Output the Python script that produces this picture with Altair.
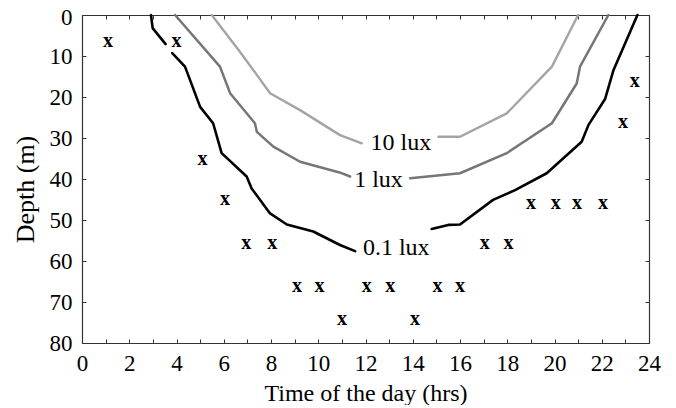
import altair as alt
import pandas as pd

# 0.1 lux isolume (three segments, gaps for marker and label)
l01a_time = [2.92, 2.99, 3.54]
l01a_depth = [0, 3.2, 7.1]
l01b_time = [3.82, 4.36, 5.0, 5.55, 5.91, 6.97, 7.18, 7.96, 8.67, 9.79, 10.92, 11.56]
l01b_depth = [9.3, 12.6, 22.4, 26.4, 33.7, 39.4, 42.3, 48.4, 51.1, 52.8, 56.1, 57.6]
l01c_time = [14.8, 15.5, 16.0, 17.4, 18.33, 19.67, 21.15, 21.44, 22.14, 22.5, 23.51]
l01c_depth = [52.2, 51.2, 51.1, 45.1, 42.7, 38.6, 30.9, 26.8, 20.5, 13.4, 0]

# 1 lux isolume
l1a_time = [3.94, 5.84, 6.27, 7.32, 7.40, 8.1, 9.23, 10.9, 11.35]
l1a_depth = [0, 12.6, 19.1, 26.4, 28.5, 32.1, 35.8, 38.4, 39.4]
l1b_time = [13.89, 16.0, 17.98, 19.89, 20.94, 21.08, 22.28]
l1b_depth = [39.8, 38.6, 33.7, 26.4, 16.7, 12.6, 0]

# 10 lux isolume
l10a_time = [5.49, 6.62, 7.40, 7.96, 9.23, 10.92, 11.84]
l10a_depth = [0, 8.5, 14.6, 19.1, 23.2, 29.3, 31.3]
l10b_time = [15.09, 16.0, 17.98, 19.89, 21.0]
l10b_depth = [29.7, 29.7, 24.0, 12.6, 0]

# "x" markers
mark_time = [1.1, 4.0, 5.1, 6.05, 6.95, 8.05, 9.1, 10.05, 11.0, 12.05, 13.05, 14.1,
             15.05, 16.0, 17.05, 18.05, 19.0, 20.05, 20.95, 22.05, 22.9, 23.4]
mark_depth = [6.6, 6.6, 35.4, 45.1, 55.9, 55.9, 66.3, 66.3, 74.4, 66.3, 66.3, 74.4,
              66.3, 66.3, 55.9, 55.9, 46.1, 46.1, 46.1, 46.1, 26.4, 16.3]

# line labels
label_text = ["10 lux", "1 lux", "0.1 lux"]
label_time = [13.5, 12.55, 13.3]
label_depth = [31.3, 40.2, 56.9]

rows = []
for level, seg, ts, ds in [
    ("0.1", "a", l01a_time, l01a_depth), ("0.1", "b", l01b_time, l01b_depth),
    ("0.1", "c", l01c_time, l01c_depth),
    ("1", "a", l1a_time, l1a_depth), ("1", "b", l1b_time, l1b_depth),
    ("10", "a", l10a_time, l10a_depth), ("10", "b", l10b_time, l10b_depth),
]:
    for i, (t, d) in enumerate(zip(ts, ds)):
        rows.append({"level": level, "seg": level + seg, "order": i, "time": t, "depth": d})
lines_df = pd.DataFrame(rows)
marks_df = pd.DataFrame({"time": mark_time, "depth": mark_depth})
labels_df = pd.DataFrame({"text": label_text, "time": label_time, "depth": label_depth})

FONT = "Liberation Serif"
xscale = alt.Scale(domain=[0, 24], nice=False, zero=False)
yscale = alt.Scale(domain=[0, 80], reverse=True, nice=False)

axis_common = dict(grid=False, domainColor="#333", domainWidth=1.2, tickColor="#333",
                   tickWidth=1, tickSize={"expr": "-4"}, labelFont=FONT, labelFontSize=23,
                   labelColor="black", labelFlush=False, titleFont=FONT,
                   titleFontWeight="normal", titleColor="black")

x_bottom = alt.Axis(orient="bottom", values=list(range(25)),
                    labelExpr="datum.value % 2 == 0 ? datum.label : ''",
                    title="Time of the day (hrs)", labelPadding=13, titleFontSize=24,
                    titleBaseline="alphabetic", titleY=57, **axis_common)
y_left = alt.Axis(orient="left", values=list(range(0, 81, 10)), title="Depth (m)",
                  labelPadding=14, labelBaseline="middle", titleFontSize=26,
                  labelOffset={"condition": {"test": "datum.value == 0", "value": 2},
                               "value": 0},
                  titleBaseline="middle", titleAlign="center", titleAngle=270,
                  titleX=-57, titleY=174, **axis_common)
x_top = alt.Axis(orient="top", values=list(range(25)), labels=False, title=None,
                 **axis_common)
y_right = alt.Axis(orient="right", values=list(range(0, 81, 10)), labels=False,
                   title=None, **axis_common)

lines = alt.Chart(lines_df).mark_line(strokeJoin="round", strokeCap="round").encode(
    x=alt.X("time:Q", scale=xscale, axis=x_bottom),
    y=alt.Y("depth:Q", scale=yscale, axis=y_left),
    detail="seg:N",
    order="order:Q",
    color=alt.Color("level:N", scale=alt.Scale(domain=["0.1", "1", "10"],
                                               range=["#000000", "#767676", "#a4a4a4"]),
                    legend=None),
    strokeWidth=alt.StrokeWidth("level:N", scale=alt.Scale(domain=["0.1", "1", "10"],
                                                           range=[2.6, 2.4, 2.0]),
                                legend=None),
)

markers = alt.Chart(marks_df).mark_text(text="x", font=FONT, fontSize=20,
                                        fontWeight="bold", baseline="alphabetic",
                                        dy=5, color="black").encode(
    x=alt.X("time:Q", scale=xscale, axis=x_top),
    y=alt.Y("depth:Q", scale=yscale, axis=y_right),
)

labels = alt.Chart(labels_df).mark_text(font=FONT, fontSize=24, baseline="middle",
                                        color="black").encode(
    x=alt.X("time:Q", scale=xscale, axis=None),
    y=alt.Y("depth:Q", scale=yscale, axis=None),
    text="text:N",
)

chart = alt.layer(lines, markers, labels).resolve_axis(
    x="independent", y="independent"
).properties(
    width=567, height=328,
    autosize=alt.AutoSizeParams(type="none"),
    padding={"left": 74, "top": 7, "right": 19, "bottom": 62},
).configure_view(stroke=None).configure(background="white")

chart.save("out.html", embed_options={"renderer": "svg", "actions": False})
